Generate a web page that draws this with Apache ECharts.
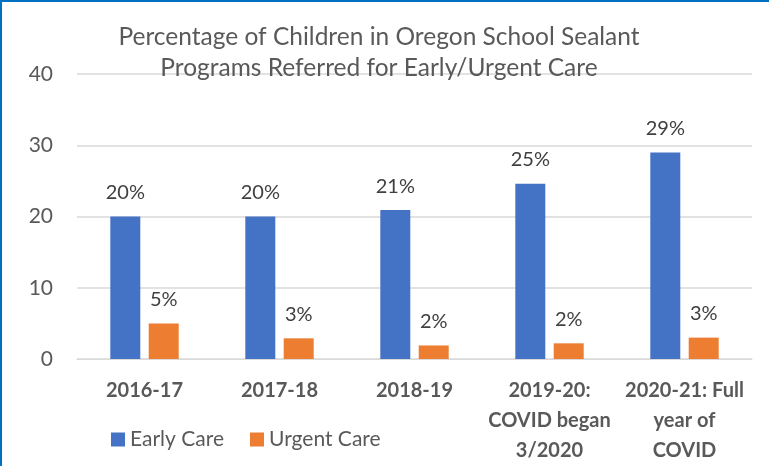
<!DOCTYPE html>
<html>
<head>
<meta charset="utf-8">
<script src="https://cdn.jsdelivr.net/npm/echarts@6/dist/echarts.min.js"></script>
<style>
  html, body { margin: 0; padding: 0; background: #fff; }
  #main-chart { width: 769px; height: 466px; box-sizing: border-box; border-left: 2px solid #0070c0; border-top: 2px solid #0070c0; }
</style>
</head>
<body>
<div id="main-chart"></div>
<script>
// 数据
var years = ['2016-17', '2017-18', '2018-19', '2019-20:\nCOVID began\n3/2020', '2020-21: Full\nyear of\nCOVID'];
var earlyCare = [20, 20, 20.9, 24.6, 29];
var urgentCare = [5, 2.9, 1.9, 2.2, 3];
var yTicks = [0, 10, 20, 30, 40];

var textColor = '#595959';
var font = 'Lato';

function pct(p) { return Math.round(p.value) + '%'; }

option = {
	backgroundColor: '#fff',
	title: {
		text: 'Percentage of Children in Oregon School Sealant\nPrograms Referred for Early/Urgent Care',
		left: 372,
		top: 15,
		textAlign: 'center',
		textStyle: { color: textColor, fontFamily: font, fontSize: 24.5, fontWeight: 'normal', lineHeight: 31 }
	},
	legend: {
		left: 104,
		top: 422,
		itemWidth: 14,
		itemHeight: 14,
		itemGap: 26,
		icon: 'rect',
		textStyle: { color: textColor, fontFamily: font, fontSize: 21 },
		data: ['Early Care', 'Urgent Care']
	},
	grid: {
		left: 75,
		right: 17,
		top: 72,
		bottom: 102
	},
	xAxis: [
		{
			type: 'category',
			data: years,
			axisLine: { show: true, lineStyle: { color: '#d9d9d9', width: 1 } },
			axisTick: { show: false },
			axisLabel: {
				interval: 0,
				margin: 17,
				color: textColor,
				fontFamily: font,
				fontSize: 20,
				fontWeight: 'bold',
				lineHeight: 30
			}
		}
	],
	yAxis: [
		{
			type: 'value',
			min: yTicks[0],
			max: yTicks[yTicks.length - 1],
			interval: 10,
			axisLine: { show: false },
			axisTick: { show: false },
			splitLine: { lineStyle: { color: '#d9d9d9', width: 1.5 } },
			axisLabel: { margin: 24, color: textColor, fontFamily: font, fontSize: 21 }
		}
	],
	series: [
		{
			name: 'Early Care',
			type: 'bar',
			data: earlyCare,
			barWidth: 30,
			barGap: '28%',
			itemStyle: { color: '#4472c4' },
			label: { show: true, position: 'top', distance: 14, formatter: pct, color: '#404040', fontFamily: font, fontSize: 20 }
		},
		{
			name: 'Urgent Care',
			type: 'bar',
			data: urgentCare,
			barWidth: 30,
			itemStyle: { color: '#ed7d31' },
			label: { show: true, position: 'top', distance: 14, formatter: pct, color: '#404040', fontFamily: font, fontSize: 20 }
		}
	]
};

var myChart = echarts.init(document.getElementById('main-chart'));
myChart.setOption(option);
</script>
</body>
</html>
